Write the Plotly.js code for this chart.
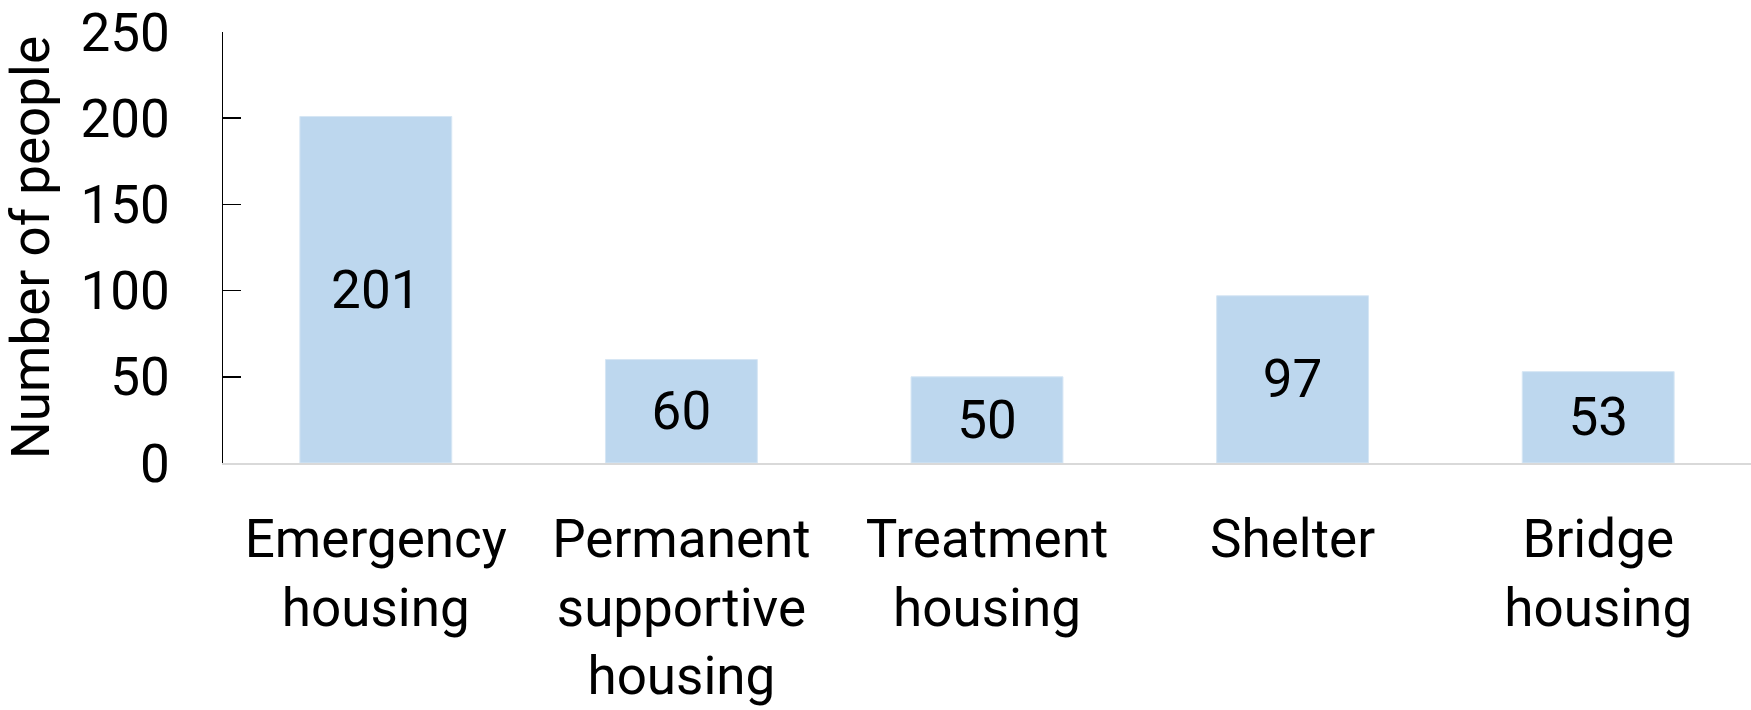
<!DOCTYPE html>
<html>
<head>
<meta charset="utf-8">
<script src="https://cdn.plot.ly/plotly-3.0.1.min.js"></script>
<style>html,body{margin:0;padding:0;background:#fff;}#chart{width:1751px;height:710px;}</style>
</head>
<body>
<div id="chart"></div>
<script>
const categories = ["Emergency<br>housing", "Permanent<br>supportive<br>housing", "Treatment<br>housing", "Shelter", "Bridge<br>housing"];
const values = [201, 60, 50, 97, 53];
const yTickValues = [0, 50, 100, 150, 200, 250];
const yTitle = "Number of people";

const FONT = "Roboto, 'Open Sans', sans-serif";

const trace = {
  type: "bar",
  x: categories,
  y: values,
  text: values.map(String),
  textposition: "inside",
  insidetextanchor: "middle",
  constraintext: "none",
  textfont: {family: FONT, size: 53, color: "#000000"},
  marker: {color: "#BDD7EE", line: {color: "#D6E6F4", width: 1}},
  hoverinfo: "none"
};

const layout = {
  width: 1751,
  height: 710,
  margin: {l: 223, r: 0, t: 32, b: 247, pad: 0},
  paper_bgcolor: "#ffffff",
  plot_bgcolor: "#ffffff",
  showlegend: false,
  bargap: 0.503,
  font: {family: FONT, size: 53, color: "#000000"},
  xaxis: {
    type: "category",
    showline: true,
    linecolor: "#D9D9D9",
    linewidth: 2,
    ticks: "",
    showgrid: false,
    zeroline: false,
    tickfont: {family: FONT, size: 53, color: "#000000"},
    ticklabelstandoff: 28,
    automargin: false
  },
  yaxis: {
    range: [0, 250],
    tickvals: yTickValues,
    ticktext: yTickValues.map(String),
    showline: true,
    linecolor: "#000000",
    linewidth: 1.5,
    ticks: "inside",
    ticklen: 18,
    tickwidth: 1.5,
    tickcolor: "#000000",
    showgrid: false,
    zeroline: false,
    tickfont: {family: FONT, size: 53, color: "#000000"},
    ticklabelstandoff: 41,
    automargin: false,
    title: {text: yTitle, font: {family: FONT, size: 53, color: "#000000"}, standoff: 28}
  }
};

Plotly.newPlot("chart", [trace], layout, {staticPlot: true, displayModeBar: false});
</script>
</body>
</html>
